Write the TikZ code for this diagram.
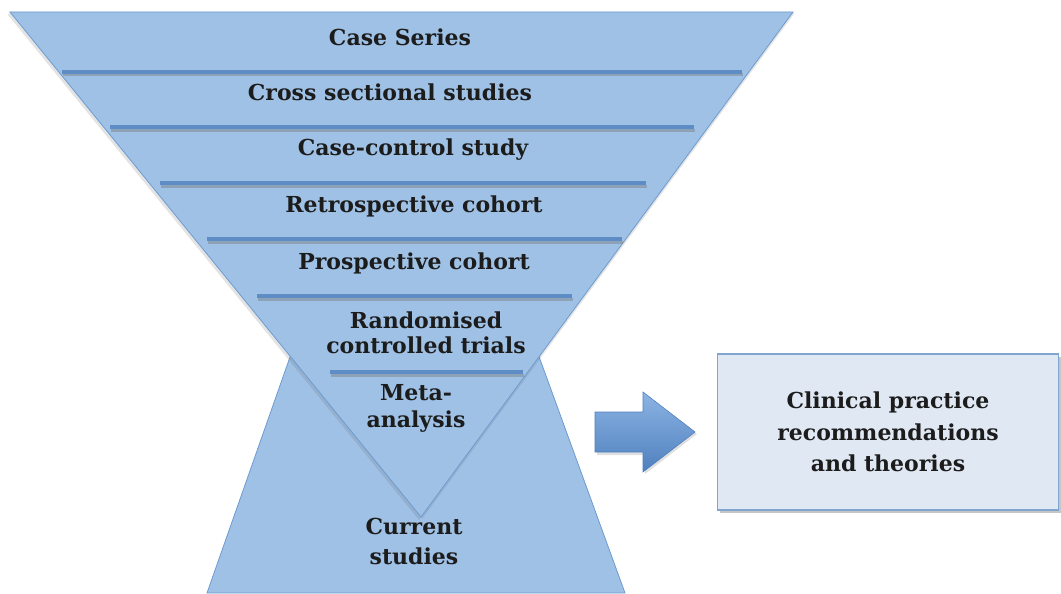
\documentclass[tikz,border=0pt]{standalone}
\usepackage{fontspec}
\setmainfont{DejaVu Serif}
\usetikzlibrary{shadows}
\definecolor{fillblue}{HTML}{9FC1E5}
\definecolor{edgeblue}{HTML}{6C9BD0}
\definecolor{barblue}{HTML}{5D8DC4}
\definecolor{boxfill}{HTML}{E0E8F3}
\definecolor{boxedge}{HTML}{7FA5D0}
\definecolor{txt}{HTML}{1C1C1C}
\definecolor{arrtop}{HTML}{8CB4E3}
\definecolor{arrbot}{HTML}{4F80BE}
\begin{document}
\begin{tikzpicture}[x=1pt,y=-1pt,
  lbl/.style={font=\bfseries\fontsize{22}{26}\selectfont, text=txt, align=center, inner sep=0pt},
  fshape/.style={fill=fillblue, draw=edgeblue, line width=0.8pt, line join=miter},
  barline/.style={draw=barblue, line width=4.5pt},
  barshadow/.style={draw=black!55, line width=3pt, opacity=0.4},
  shadowshape/.style={fill=black!60, opacity=0.18}]
\useasboundingbox (0,0) rectangle (1061,594);
% bottom trapezoid
\path[fshape] (296,340) -- (533,340) -- (625,593) -- (207,593) -- cycle;
% triangle shadow
\fill[shadowshape] (8,15) -- (10,12) -- (421,517) -- (419,520) -- cycle;
\fill[shadowshape] (421,517) -- (793,12) -- (794,14) -- (422,519) -- cycle;
% inverted triangle
\path[fshape] (10,12) -- (793,12) -- (421,517) -- cycle;
% separator bars
\foreach \y/\a/\b in {72/62/742, 127/110/694, 183/160/646, 239/207/622, 296/257/572, 372/330/523}{
  \draw[barshadow] (\a+1,\y+3) -- (\b+1,\y+3);
  \draw[barline] (\a,\y) -- (\b,\y);
}
% labels
\node[lbl] (l1) at (400,37) {Case Series};
\node[lbl] (l2) at (390,92) {Cross sectional studies};
\node[lbl] (l3) at (413,150) {Case-control study};
\node[lbl] (l4) at (414,206) {Retrospective cohort};
\node[lbl] (l5) at (414,263) {Prospective cohort};
\node[lbl, font=\bfseries\fontsize{22}{25}\selectfont] (l6) at (426,333) {Randomised\\controlled trials};
\node[lbl, font=\bfseries\fontsize{22}{27}\selectfont] (l7) at (416,408) {Meta-\\analysis};
\node[lbl, font=\bfseries\fontsize{22}{30}\selectfont] (l8) at (414,541) {Current\\studies};
% arrow
\fill[black!50, opacity=0.25] (597,415) -- (645,415) -- (645,395) -- (697,434) -- (645,474) -- (645,455) -- (597,455) -- cycle;
\path[top color=arrtop, bottom color=arrbot, draw=arrbot, line width=0.6pt]
  (595,412) -- (643,412) -- (643,392) -- (695,432) -- (643,472) -- (643,452) -- (595,452) -- cycle;
% box
\node[lbl, font=\bfseries\fontsize{22}{31.5}\selectfont, fill=boxfill, draw=boxedge, line width=1.2pt,
  minimum width=341pt, minimum height=156pt,
  drop shadow={opacity=0.45, shadow xshift=2pt, shadow yshift=-3pt}] (box) at (888,432)
  {Clinical practice\\recommendations\\and theories};
\end{tikzpicture}
\end{document}
